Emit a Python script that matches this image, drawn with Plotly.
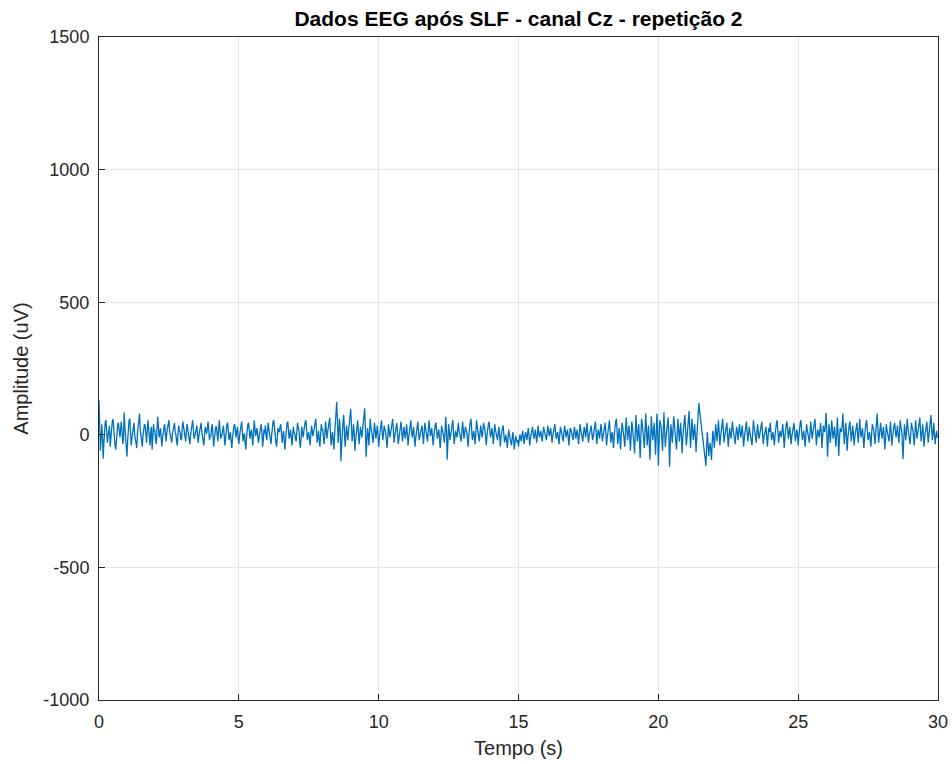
import numpy as np
import plotly.graph_objects as go

# EEG samples (uV), 40 samples per second
fs = 40
amplitude_uv = [
    130, 20, -60, -20, 40, -10, -90, -30, 20, 50, 55, 10, -30, -5, 10, 35, -45, -10, 35, 50, 60, 15, -20, -40, -55, -10, 15, 45, 40, 0, -10, 25, 50, 10, -35, -15, 85, 30, -25, -50,
    -83, -20, 30, 55, 60, 10, -40, -15, 10, 35, 45, 0, -15, -40, -50, 5, 25, 60, 80, 20, -5, -30, -45, 0, 20, 40, 35, -10, -30, 15, 55, 25, -20, -40, 10, 30, -55, -10, 40, 15,
    15, -20, -35, 20, 68, 30, -10, 5, 25, -15, -45, -5, 5, 30, 40, 0, -25, 10, 30, 45, 55, 15, -5, -30, -30, 5, 20, 40, 45, 10, 0, -25, -40, 5, 35, 15, 10, -15, -20, 25,
    50, 30, 15, -10, -25, 15, 40, 20, 5, -20, -35, 0, 25, 45, 55, 20, -15, -5, 10, 30, 35, -5, -30, 0, 20, 40, 45, 10, -10, -25, -40, 0, 30, 15, 5, 25, 50, 20, -20, -5,
    -5, 25, 40, 0, -45, -15, 15, 30, 30, -5, -25, 20, 55, 25, -15, -5, 0, 20, 35, 0, -40, -15, 20, 40, 45, 10, -20, -5, 10, -25, -50, -10, 25, 35, 40, 5, -10, 15, 30, -10,
    -35, -5, 15, 40, 50, 15, -25, -5, 5, -30, -55, -10, 30, 40, 45, 5, -15, 5, 20, -10, -40, 10, 55, 25, -5, 10, 25, -5, -30, -10, 10, 25, 40, 10, -45, -20, 20, 5, 35, -5,
    -20, 15, 45, 20, 0, -20, -35, 0, 30, 50, 55, 15, -10, -30, -45, -5, 25, 15, 10, 30, 40, 5, -30, -5, 15, -20, -55, -15, 35, 45, 50, 10, -15, 0, 20, -10, -40, -5, 30, 10,
    5, -15, -25, 15, 45, 30, 15, -20, -50, -10, 30, 10, -10, 15, 40, 50, 55, 15, -20, -5, 10, -15, -40, 0, 35, 15, -5, 10, 25, 45, 60, 20, -30, -10, 15, -20, -45, 0, 40, 20,
    20, -10, -35, 5, 50, 20, -15, 10, 30, 50, 65, 10, -40, -10, 10, -25, -55, 0, 45, 80, 124, 60, -30, 10, 60, 20, -100, -40, 20, 45, 75, 10, -45, -10, 35, 10, -20, 15, 50, 70,
    98, 40, -25, 0, 40, 5, -60, -20, 15, 35, 55, 10, -35, -5, 30, 10, -10, 20, 45, 70, 100, 20, -83, -30, 25, 5, -40, 10, 60, 30, 10, -15, -30, 5, 45, 20, -15, 5, 35, 0,
    -45, -15, 20, 40, 55, 15, -20, 5, 35, 20, 10, -20, -50, -5, 40, 15, -10, 5, 25, 45, 60, 20, -30, -5, 15, 30, 45, 5, -35, -15, 5, 30, 50, 15, -25, 0, 30, 10, -15, 10,
    40, 5, -40, -10, 20, 40, 55, 15, -10, 10, 30, -10, -45, -15, 15, 35, 50, 10, -20, -5, 5, 20, 35, 0, -35, 5, 45, 25, 10, -10, -25, 20, 55, 25, -5, 10, 25, -10, -40, -5,
    30, 40, 45, 10, -15, 5, 20, -15, -50, -10, 35, 20, 10, -10, -30, 20, 68, 10, -94, -30, 40, 15, -20, 0, 25, 40, 55, 10, -35, -10, 15, 0, -10, 20, 45, 15, 0, -10, -25, 10,
    50, 20, -15, 5, 30, 20, 10, -20, -45, 0, 40, 50, 60, 20, -20, -5, 15, -10, -35, 10, 55, 30, 5, -10, -25, 10, 35, 10, -10, 15, 45, 30, 20, -15, -40, 0, 30, 40, 50, 15,
    -10, 5, 25, 0, -35, 0, 40, 20, 5, -10, -20, 5, 30, 0, -45, -10, 15, 25, 35, 0, -30, -15, 0, -20, -50, -15, 20, 0, -15, -25, -40, -10, 10, -20, -55, -30, -5, -15, -30, -20,
    -45, -20, 0, -10, -25, 0, 15, -10, -35, -10, 10, 0, -20, 5, 25, 0, -40, -15, 5, 15, 30, 5, -15, 0, 20, -5, -30, 0, 35, 10, -10, 5, 15, -10, -25, 5, 30, 15, 5, -10,
    -20, 10, 35, 15, -5, 10, 25, 0, -30, -5, 15, 25, 40, 10, -15, 0, 10, -15, -35, 0, 30, 15, 0, -10, -25, 10, 35, 15, -10, 5, 20, -5, -40, -10, 25, 20, 10, -5, -20, 5,
    30, 10, -15, 5, 20, -10, -35, 0, 40, 20, 5, -10, -25, 5, 30, 15, -10, 15, 45, 10, -30, -5, 15, 25, 35, 5, -20, -5, 10, 30, 50, 10, -35, -5, 20, 5, -15, 15, 40, 15,
    -25, -5, 15, 30, 45, 0, -40, -10, 20, 35, 55, 15, -30, -5, 10, -20, -50, 0, 40, 50, 60, 10, -35, -5, 25, -10, -55, 0, 45, 30, 15, -15, -45, 10, 65, 25, -20, 5, 35, 0,
    -60, -10, 50, 30, 10, -30, -70, 0, 75, 20, -25, 10, 40, -20, -87, -10, 60, 40, 20, -15, -50, 20, 80, 25, -40, -5, 35, -30, -94, -10, 70, 20, -20, 10, 45, -10, -75, 0, 80, 20,
    -117, -40, 55, 40, 30, -15, -60, 10, 85, 20, -45, -10, 20, 40, 65, 0, -120, -40, 40, 10, -30, 20, 70, 40, 10, -20, -55, 0, 60, 20, -25, 10, 45, -10, -70, -10, 35, 50, 75, 10,
    -40, -10, 20, 50, 90, 20, -50, 0, 60, 20, -20, 10, 40, -10, -65, -10, 30, 60, 120, 90, 70, 40, 20, -5, -30, -45, -60, -90, -117, -40, 10, -30, -80, -50, -30, -60, -95, -30, 15, -10,
    -50, -10, 40, 10, -25, 15, 55, 10, -40, -10, 20, 40, 60, 15, -30, -5, 10, 25, 45, 0, -45, -10, 25, 5, -15, 20, 50, 20, 5, -15, -35, 5, 30, 10, -20, 10, 40, 15, -10, 10,
    35, 0, -45, -10, 15, 35, 50, 10, -25, 0, 30, 10, -5, -20, -40, 10, 55, 30, 10, -10, -30, 10, 40, 10, -15, 0, 20, 35, 50, 10, -35, -10, 5, 15, 30, -10, -45, -5, 25, 10,
    45, 15, -20, -5, 10, -15, -40, 0, 35, 45, 55, 10, -30, -5, 15, 0, -10, 20, 40, 0, -50, -10, 25, 40, 50, 15, -15, 10, 30, -5, -35, -5, 10, 30, 45, 10, -25, -5, 20, 5,
    -40, -5, 30, 45, 55, 15, -20, 0, 15, -15, -45, 0, 40, 20, 5, -10, -30, 10, 50, 20, -15, 5, 25, 40, 60, 15, -40, -10, 20, 5, -10, 15, 45, 10, -50, -10, 35, 20, 10, 40,
    83, 10, -83, -20, 40, 10, -30, 10, 55, 20, -15, 5, 30, -10, -45, 0, 65, 10, -80, -20, 25, 15, 10, 40, 80, 20, -35, 0, 45, 5, -60, -15, 20, 35, 50, 10, -25, 0, 35, 5,
    -40, -10, 15, 30, 45, 5, -30, 10, 60, 20, -10, 5, 25, -15, -50, -5, 35, 45, 55, 10, -20, -5, 10, -15, -45, 0, 40, 30, 20, -10, -35, 10, 65, 80, 30, -30, -5, 20, 45, 10,
    -15, 10, 30, -10, -55, -10, 40, 20, 10, -10, -25, 10, 50, 10, -40, -10, 20, 35, 45, 5, -10, 10, 35, 0, -30, 10, 55, 30, 15, -30, -92, -20, 40, 10, -20, 20, 60, 25, 5, -15,
    -35, 0, 45, 30, 20, -10, -40, 5, 55, 20, -15, 5, 30, 45, 65, 10, -25, 5, 40, 5, -45, -10, 10, 30, 50, 10, -30, 0, 25, 45, 75, 20, -20, 10, 45, 0, -35, -5, 15, -10,
    -5,
]
time_s = np.arange(len(amplitude_uv)) / fs

x_ticks = [0, 5, 10, 15, 20, 25, 30]
y_ticks = [-1000, -500, 0, 500, 1000, 1500]
y_tick_labels = ["-1000", "-500", "0", "500", "1000", "1500"]

FONT = "Liberation Sans, Arial, Helvetica, sans-serif"
TXT = "#262626"

fig = go.Figure()
fig.add_trace(go.Scatter(
    x=time_s, y=amplitude_uv, mode="lines",
    line=dict(color="#0072BD", width=1.3),
    showlegend=False, hoverinfo="skip",
))

axis_common = dict(
    showline=True, mirror=True, linecolor=TXT, linewidth=1,
    ticks="inside", ticklen=6, tickcolor=TXT,
    showgrid=True, gridcolor="#E5E5E5", gridwidth=1,
    zeroline=False, automargin=False,
    tickfont=dict(family=FONT, size=18, color=TXT),
)

fig.update_xaxes(range=[0, 30], tickvals=x_ticks, ticklabelstandoff=5,
                 title=dict(text="Tempo (s)", standoff=10,
                            font=dict(family=FONT, size=20, color=TXT)),
                 **axis_common)
fig.update_yaxes(range=[-1000, 1500], tickvals=y_ticks, ticktext=y_tick_labels,
                 ticklabelstandoff=5,
                 title=dict(text="Amplitude (uV)", standoff=9,
                            font=dict(family=FONT, size=20, color=TXT)),
                 **axis_common)

fig.update_layout(
    width=952, height=764,
    margin=dict(l=99, r=14, t=37, b=64, autoexpand=False),
    paper_bgcolor="white", plot_bgcolor="white",
    title=dict(text="<b>Dados EEG após SLF - canal Cz - repetição 2</b>",
               xref="paper", x=0.5, xanchor="center",
               yref="container", y=1 - 19 / 764, yanchor="middle",
               font=dict(family=FONT, size=21, color="#000000")),
)

fig.write_html("out.html")
